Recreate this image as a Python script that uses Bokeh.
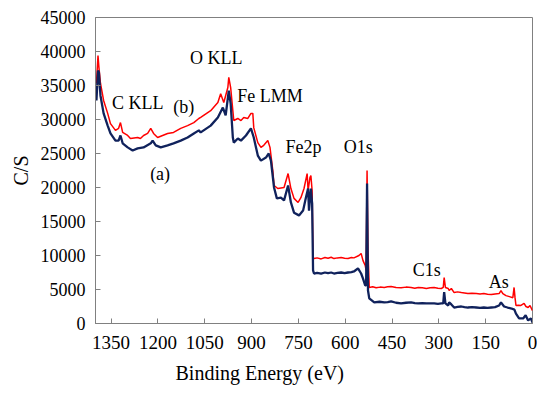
from bokeh.plotting import figure
from bokeh.models import Range1d, FixedTicker, ColumnDataSource, Title
from bokeh.core.properties import value
from bokeh.embed import file_html
from bokeh.resources import INLINE

# ---- data ----
be_b = [1397,1392,1389,1384,1374,1361,1352,1336,1326,1320,1313,1297,1288,1265,1256,1246,1233,1223,1214,1201,
        1185,1169,1150,1127,1105,1085,1069,1063,1031,1008,999,989,976,973,967,960,957,944,934,925,
        912,902,896,893,880,870,861,848,841,832,828,816,796,783,774,764,751,742,732,722,
        719,713,710,706,703,700,690,677,665,655,645,636,625,613,602,591,580,572,556,549,
        543,536,533,530,527,523,512,501,488,475,464,453,437,421,405,389,377,366,353,340,
        328,315,303,292,286,283,279,270,267,260,251,240,228,218,207,194,180,168,156,144,
        132,120,107,101,95,85,74,63,59,56,53,45,37,27,21,14,8,0]
cps_b = [35300,39400,37650,35300,32800,30900,29400,28400,28700,29550,28100,27650,27200,27350,27200,27650,27950,28700,27950,27350,
         27650,27950,28100,28700,29100,29550,30150,30300,31300,32500,33800,32500,34700,36200,34700,31300,29850,30150,29850,30300,
         30150,30900,30900,28800,26600,25900,26200,26900,25900,22500,20300,19850,20000,22050,19850,18400,17800,18500,19850,22050,
         19550,21450,21750,19550,9700,9550,9650,9500,9700,9600,9750,9550,9650,9700,9600,9550,9700,9650,10000,10300,
         9250,8550,7800,22500,10700,5300,5400,5250,5350,5300,5400,5450,5300,5250,5350,5300,5200,5300,5250,5150,
         5250,5300,5200,5150,5300,6750,5300,5150,4850,5150,4550,4650,4550,4500,4400,4450,4400,4350,4400,4300,
         4250,4350,4400,4850,4400,4100,3950,3800,5300,3800,2650,2700,2650,2950,2500,2350,2650,1900]

be_a = [1397,1392,1389,1384,1374,1361,1352,1336,1326,1320,1313,1297,1281,1265,1246,1223,1217,1207,1191,1169,
        1150,1127,1105,1085,1069,1063,1031,1008,992,983,973,967,960,957,944,934,918,902,893,880,
        870,854,845,838,828,819,806,796,783,774,764,748,735,726,719,716,710,706,703,700,
        690,677,665,655,645,636,625,613,602,591,580,572,559,549,543,536,533,530,527,523,
        507,490,475,464,453,437,421,405,389,377,366,353,340,328,315,303,292,286,283,279,
        270,267,260,251,240,228,218,207,194,180,168,156,144,132,120,107,101,91,80,67,
        58,53,43,30,22,14,5,0]
cps_a = [32800,37200,36900,33500,30900,29100,27950,26900,26900,27650,26500,25900,25450,25750,25900,26500,26900,26200,25900,26200,
         26500,26900,27350,27950,28400,28100,29100,30300,31750,30600,34250,32350,27350,26600,27200,26900,27650,28700,27350,24700,
         23950,24400,25000,23950,20000,18400,18500,18100,20300,17800,16300,15900,16600,18500,19850,16600,19850,17650,7800,7350,
         7450,7350,7500,7400,7500,7350,7450,7500,7400,7500,7550,7650,8100,7350,6600,5600,5600,20600,4850,3700,
         3100,3200,3100,3150,3250,3050,2950,3050,3100,3000,2950,3000,2950,2950,2950,2900,2950,2950,4600,2950,
         2650,3100,2800,2350,2450,2500,2400,2350,2400,2350,2300,2350,2300,2350,2400,2650,3100,2500,2350,2200,
         2050,1450,750,750,1200,450,750,150]

x_ticks = [1350, 1200, 1050, 900, 750, 600, 450, 300, 150, 0]
y_ticks = [0, 5000, 10000, 15000, 20000, 25000, 30000, 35000, 40000, 45000]

ann_text = ["O KLL", "C KLL", "(b)", "(a)", "Fe LMM", "Fe2p", "O1s", "C1s", "As"]
ann_x = [1097, 1347, 1151, 1225, 946, 791, 605, 384, 140]
ann_y = [39100, 32500, 31900, 22050, 33400, 26000, 26000, 7800, 6030]

x_title = "Binding Energy (eV)"
y_title = "C/S"

FONT = "Liberation Serif"
GRAY = "#808080"

p = figure(width=537, height=395, output_backend="svg", toolbar_location=None,
           x_range=Range1d(1400, 0), y_range=Range1d(0, 45000),
           min_border_left=95, min_border_right=5, min_border_top=17, min_border_bottom=72)
p.title = None

p.line(be_b, cps_b, line_color="#ff0000", line_width=1.5)
p.line(be_a, cps_a, line_color="#10225c", line_width=2.3)

src = ColumnDataSource(dict(x=ann_x, y=ann_y, t=ann_text))
p.text(x="x", y="y", text="t", source=src, text_font=value(FONT), text_font_size="18px",
       text_color="black", text_align="left", text_baseline="alphabetic")

p.xgrid.visible = False
p.ygrid.visible = False
p.outline_line_color = GRAY

p.xaxis.ticker = FixedTicker(ticks=x_ticks)
p.yaxis.ticker = FixedTicker(ticks=y_ticks)
for ax in (p.xaxis, p.yaxis):
    ax.axis_line_color = GRAY
    ax.major_tick_line_color = GRAY
    ax.major_tick_in = 5
    ax.major_tick_out = 0
    ax.minor_tick_in = 0
    ax.minor_tick_out = 0
    ax.minor_tick_line_color = None
    ax.major_label_text_font = FONT
    ax.major_label_text_color = "black"

p.xaxis.major_label_text_font_size = "19px"
p.xaxis.major_label_standoff = 12

p.yaxis.major_label_text_font_size = "18px"
p.yaxis.major_label_standoff = 10
p.yaxis.axis_label = y_title
p.yaxis.axis_label_text_font = FONT
p.yaxis.axis_label_text_font_style = "normal"
p.yaxis.axis_label_text_font_size = "20px"
p.yaxis.axis_label_text_color = "black"
p.yaxis.axis_label_standoff = 6

# x title sits left of centre in the reference -> a left-aligned title below the axis
p.add_layout(Title(text=x_title, align="left", offset=80, standoff=17,
                   text_font=FONT, text_font_size="20px", text_font_style="normal",
                   text_color="black"), "below")

open("out.html", "w").write(file_html(p, INLINE))
